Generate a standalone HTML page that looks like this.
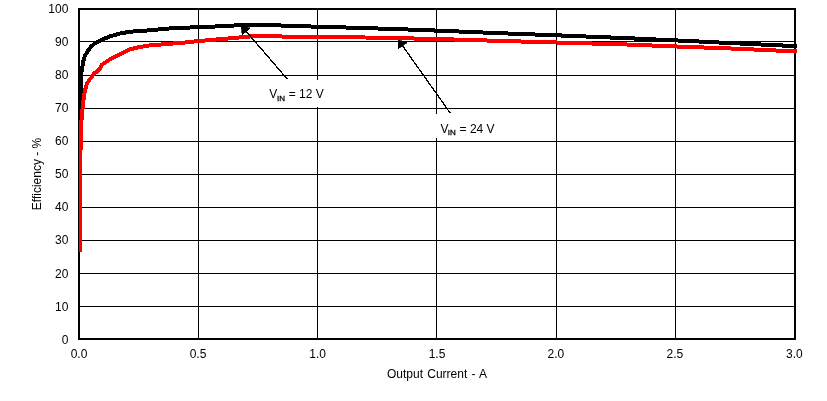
<!DOCTYPE html>
<html>
<head>
<meta charset="utf-8">
<title>Efficiency vs Output Current</title>
<style>
html,body{margin:0;padding:0;background:#fff;}
body{width:827px;height:401px;overflow:hidden;}
svg{display:block;}
text{font-family:"Liberation Sans",sans-serif;font-size:12px;fill:#000;}
.sub{font-size:8px;stroke:#000;stroke-width:0.3px;}
</style>
</head>
<body>
<svg width="827" height="401" viewBox="0 0 827 401">
<rect x="0" y="0" width="827" height="401" fill="#ffffff"/>
<!-- faint outer edge -->
<rect x="0" y="0" width="1" height="401" fill="#fdfdfd"/>
<rect x="0" y="400" width="827" height="1" fill="#fdfdfd"/>
<!-- grid -->
<g fill="#000" shape-rendering="crispEdges">
<rect x="80" y="41" width="714" height="1"/>
<rect x="80" y="75" width="714" height="1"/>
<rect x="80" y="108" width="714" height="1"/>
<rect x="80" y="141" width="714" height="1"/>
<rect x="80" y="174" width="714" height="1"/>
<rect x="80" y="207" width="714" height="1"/>
<rect x="80" y="240" width="714" height="1"/>
<rect x="80" y="273" width="714" height="1"/>
<rect x="80" y="306" width="714" height="1"/>
<rect x="198" y="10" width="1" height="328"/>
<rect x="317" y="10" width="1" height="328"/>
<rect x="436" y="10" width="1" height="328"/>
<rect x="556" y="10" width="1" height="328"/>
<rect x="675" y="10" width="1" height="328"/>
<!-- frame -->
<rect x="78" y="8" width="718" height="2"/>
<rect x="78" y="338" width="718" height="2"/>
<rect x="78" y="8" width="2" height="332"/>
<rect x="794" y="8" width="2" height="332"/>
</g>
<!-- curves -->
<g fill="none" stroke-width="4" stroke-linejoin="round" stroke-linecap="butt" shape-rendering="crispEdges">
<polyline id="blk" stroke="#000" points="80,200 80.3,120 80.8,85 81,75 81.9,69.9 83,62.4 84.6,56.5 87.6,51.2 91,46.7 95.3,43 100.4,40.4 104,38.8 110,36.4 120,33.5 130,31.7 140,31.1 150,30.3 160,29.3 170,28.4 180,27.9 200,27.1 220,26.3 240,25.2 250,24.8 260,24.8 295,26 327,27 340,27.3 400,29.2 437,30.6 500,33.2 556.5,35.3 630,38.3 675.6,40.4 740,43.5 797,46.2"/>
<polyline id="red" stroke="#ff0000" points="80,251.6 80,152 81,148 81,126 82,114 83,104 84.35,94 85.5,88.5 86.75,84 88.6,81 91.5,77.2 94.5,73.1 98.2,70.8 100.6,67.7 102.1,64.7 106.4,61.7 112.4,57.9 118.4,55 124.4,52 130,49.3 140,46.9 150,45.4 160,44.6 170,43.7 180,43 200,40.9 220,39.2 240,37.4 255,36.1 265,36.1 290,36.7 340,37 400,38.2 437,39 500,40.9 556.5,42.5 630,44.6 675.6,46.45 740,48.85 797,51.45"/>
</g>
<rect x="78" y="90" width="1" height="250" fill="#000" shape-rendering="crispEdges"/>
<!-- arrows -->
<g stroke="#000" stroke-width="1.3" fill="#000" shape-rendering="crispEdges">
<line x1="287.2" y1="79" x2="245" y2="30"/>
<polygon points="241,25 242.2,34.8 250.4,28.2" stroke-width="0.7"/>
<line x1="450.3" y1="113.2" x2="402" y2="45"/>
<polygon points="398.3,40 398.2,48.9 407.1,42.6" stroke-width="0.7"/>
</g>
<!-- labels on plot -->
<rect x="263" y="80" width="66" height="27.3" fill="#fff" shape-rendering="crispEdges"/>
<rect x="435" y="113.5" width="66" height="24.5" fill="#fff" shape-rendering="crispEdges"/>
<text x="269.3" y="97.8">V<tspan class="sub" dx="-0.4" dy="2.8">IN</tspan><tspan dx="0.4" dy="-2.8"> = 12 V</tspan></text>
<text x="440.4" y="133">V<tspan class="sub" dx="-0.7" dy="1.8">IN</tspan><tspan dx="0.5" dy="-1.8"> = 24 V</tspan></text>
<!-- y tick labels -->
<g text-anchor="end">
<text x="68.4" y="13.2">100</text>
<text x="68.4" y="46.1">90</text>
<text x="68.4" y="79.1">80</text>
<text x="68.4" y="112.1">70</text>
<text x="68.4" y="145.1">60</text>
<text x="68.4" y="178.1">50</text>
<text x="68.4" y="211.1">40</text>
<text x="68.4" y="244.1">30</text>
<text x="68.4" y="278.1">20</text>
<text x="68.4" y="311.1">10</text>
<text x="68.4" y="344.3">0</text>
</g>
<!-- x tick labels -->
<g text-anchor="middle">
<text x="79" y="358.3">0.0</text>
<text x="198" y="358.3">0.5</text>
<text x="317.7" y="358.3">1.0</text>
<text x="437" y="358.3">1.5</text>
<text x="555.9" y="358.3">2.0</text>
<text x="674.95" y="358.3">2.5</text>
<text x="794.4" y="358.3">3.0</text>
</g>
<text x="437" y="377.8" text-anchor="middle" style="word-spacing:0.9px">Output Current - A</text>
<text transform="translate(40.5,174) rotate(-90)" text-anchor="middle">Efficiency - %</text>
</svg>
</body>
</html>
